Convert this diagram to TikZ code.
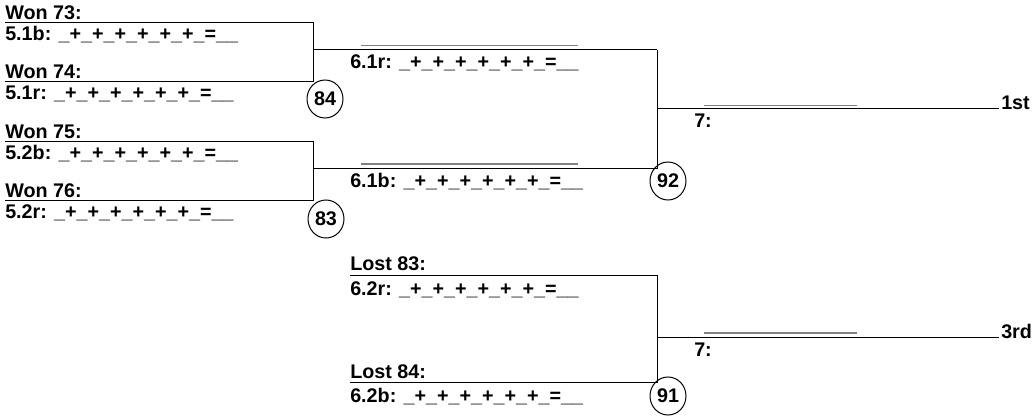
\documentclass[tikz,border=0pt]{standalone}
\usepackage{fontspec}
\setmainfont{Liberation Sans}
\usetikzlibrary{shapes.geometric}
\begin{document}
\begin{tikzpicture}[x=0.75pt,y=-0.75pt,
  lbl/.style={anchor=base west,inner sep=0pt,font=\bfseries\fontsize{14.8}{17}\selectfont},
  wire/.style={draw=black,line width=0.75pt},
  blank/.style={draw=black!50,line width=1.3pt},
  seed/.style={ellipse,draw=black,line width=0.75pt,inner sep=0pt,minimum width=27pt,minimum height=28.5pt,font=\bfseries\fontsize{14.8}{17}\selectfont}]
\useasboundingbox (0,0) rectangle (1032,417);
% coordinates
\coordinate (g1a) at (5,23);   \coordinate (g1v) at (313,82); \coordinate (g1b) at (5,82);
\coordinate (g1m) at (313,50);
\coordinate (g2a) at (5,142);  \coordinate (g2v) at (313,201); \coordinate (g2b) at (5,201);
\coordinate (g2m) at (313,169);
\coordinate (r2t) at (657,50); \coordinate (r2b) at (657,169); \coordinate (r2m) at (657,109);
\coordinate (fin) at (999,109);
\coordinate (l3a) at (350,275); \coordinate (l3v) at (657,382); \coordinate (l3b) at (350,382);
\coordinate (l3m) at (657,337); \coordinate (thr) at (999,337);
\coordinate (w1s) at (361,45.5); \coordinate (w1e) at (578,45.5);
\coordinate (w2s) at (361,164);  \coordinate (w2e) at (578,164);
\coordinate (w3s) at (704,105.5); \coordinate (w3e) at (857,105.5);
\coordinate (w4s) at (704,333);  \coordinate (w4e) at (857,333);
% connectors
\draw[wire] (g1a) -| (g1v) -- (g1b);
\draw[wire] (g2a) -| (g2v) -- (g2b);
\draw[wire] (g1m) -- (r2t);
\draw[wire] (g2m) -- (r2b);
\draw[wire] (r2t) -- (r2b);
\draw[wire] (r2m) -- (fin);
\draw[wire] (l3a) -| (l3v) -- (l3b);
\draw[wire] (l3m) -- (thr);
\draw[blank] (w1s) -- (w1e);
\draw[blank] (w2s) -- (w2e);
\draw[blank] (w3s) -- (w3e);
\draw[blank] (w4s) -- (w4e);
% labels
\node[lbl] (t1) at (5,19.5) {Won 73:};
\node[lbl] (t2) at (5,40.5) {5.1b: \_+\_+\_+\_+\_+\_+\_=\_\_};
\node[lbl] (t3) at (5,79) {Won 74:};
\node[lbl] (t4) at (5,100) {5.1r: \_+\_+\_+\_+\_+\_+\_=\_\_};
\node[lbl] (t5) at (5,138.5) {Won 75:};
\node[lbl] (t6) at (5,159.5) {5.2b: \_+\_+\_+\_+\_+\_+\_=\_\_};
\node[lbl] (t7) at (5,198) {Won 76:};
\node[lbl] (t8) at (5,219) {5.2r: \_+\_+\_+\_+\_+\_+\_=\_\_};
\node[lbl] (u1) at (350,69) {6.1r: \_+\_+\_+\_+\_+\_+\_=\_\_};
\node[lbl] (u2) at (350,188) {6.1b: \_+\_+\_+\_+\_+\_+\_=\_\_};
\node[lbl] (v1) at (350,271) {Lost 83:};
\node[lbl] (v2) at (350,295) {6.2r: \_+\_+\_+\_+\_+\_+\_=\_\_};
\node[lbl] (v3) at (350,378) {Lost 84:};
\node[lbl] (v4) at (350,402) {6.2b: \_+\_+\_+\_+\_+\_+\_=\_\_};
\node[lbl] (s1) at (694,128) {7:};
\node[lbl] (s2) at (694,356) {7:};
\node[lbl] (p1) at (1001,110) {1st};
\node[lbl] (p3) at (1001,338) {3rd};
% seeds
\node[seed] (c84) at (325,99) {84};
\node[seed] (c83) at (326,219) {83};
\node[seed] (c92) at (668,181) {92};
\node[seed] (c91) at (668,396) {91};
\end{tikzpicture}
\end{document}
